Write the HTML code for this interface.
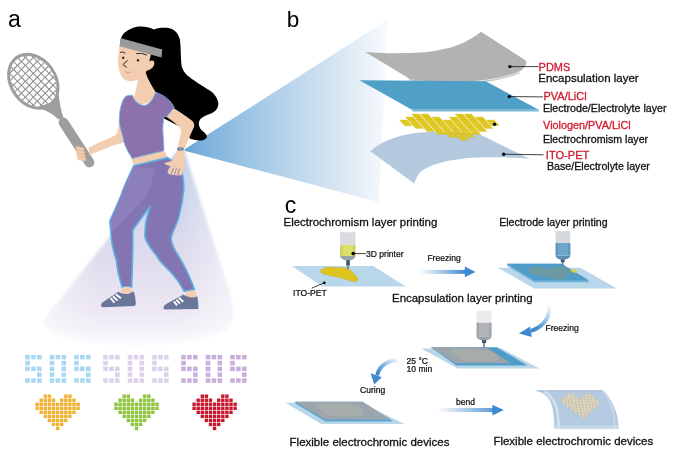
<!DOCTYPE html>
<html><head><meta charset="utf-8">
<style>
html,body{margin:0;padding:0;background:#fff;width:678px;height:457px;overflow:hidden}
svg{display:block;filter:blur(0.3px)}
text{font-family:"Liberation Sans",sans-serif}
</style></head>
<body>
<svg width="678" height="457" viewBox="0 0 678 457">
<defs>
<linearGradient id="beam" x1="185" y1="0" x2="390" y2="0" gradientUnits="userSpaceOnUse">
<stop offset="0" stop-color="#66a3d8"/>
<stop offset="0.05" stop-color="#76addb"/>
<stop offset="0.34" stop-color="#a0c8e6"/>
<stop offset="0.46" stop-color="#b3d1ea"/>
<stop offset="0.73" stop-color="#d5e5f2"/>
<stop offset="0.95" stop-color="#f3f7fc"/>
<stop offset="1" stop-color="#fbfdfe"/>
</linearGradient>
<linearGradient id="cone" x1="0" y1="150" x2="0" y2="352" gradientUnits="userSpaceOnUse">
<stop offset="0" stop-color="#bfd0eb"/>
<stop offset="0.5" stop-color="#dedbed"/>
<stop offset="0.78" stop-color="#ebe6f3"/>
<stop offset="0.88" stop-color="#f3f0f8"/>
<stop offset="1" stop-color="#ffffff"/>
</linearGradient>
<linearGradient id="coneW" x1="40" y1="0" x2="236" y2="0" gradientUnits="userSpaceOnUse">
<stop offset="0" stop-color="#fff" stop-opacity="0.5"/>
<stop offset="0.3" stop-color="#fff" stop-opacity="0"/>
<stop offset="0.72" stop-color="#fff" stop-opacity="0"/>
<stop offset="1" stop-color="#fff" stop-opacity="0.55"/>
</linearGradient>
<linearGradient id="arrH" x1="0" y1="0" x2="1" y2="0">
<stop offset="0" stop-color="#3d8ace" stop-opacity="0"/>
<stop offset="1" stop-color="#3d8ace"/>
</linearGradient>
<linearGradient id="syrG" x1="0" y1="0" x2="1" y2="0">
<stop offset="0" stop-color="#c9c9c9"/>
<stop offset="0.45" stop-color="#f2f2f2"/>
<stop offset="1" stop-color="#bdbdbd"/>
</linearGradient>
<linearGradient id="syrY" x1="0" y1="0" x2="1" y2="0">
<stop offset="0" stop-color="#c9c248"/>
<stop offset="0.45" stop-color="#efe98a"/>
<stop offset="1" stop-color="#bdb53c"/>
</linearGradient>
<linearGradient id="syrB" x1="0" y1="0" x2="1" y2="0">
<stop offset="0" stop-color="#3f78a4"/>
<stop offset="0.45" stop-color="#7fb0d4"/>
<stop offset="1" stop-color="#3a6f99"/>
</linearGradient>
<linearGradient id="syrK" x1="0" y1="0" x2="1" y2="0">
<stop offset="0" stop-color="#8f969d"/>
<stop offset="0.45" stop-color="#c8cdd2"/>
<stop offset="1" stop-color="#868d94"/>
</linearGradient>
<filter id="blur2" x="-20%" y="-20%" width="140%" height="140%"><feGaussianBlur stdDeviation="1.6"/></filter>
<clipPath id="rh"><ellipse cx="33.3" cy="81.3" rx="29" ry="22.3" transform="rotate(55 33.3 81.3)"/></clipPath>
</defs>

<!-- ===== Panel a ===== -->
<text x="8.1" y="26.5" font-size="23" fill="#000">a</text>

<!-- downward cone -->
<path d="M176,152 L184.5,151 L229,292 C232,305 234,318 229,327 C205,346 120,350 70,339 C55,334 43,327 45,319 Z" fill="url(#cone)" filter="url(#blur2)"/>
<path d="M176,152 L184.5,151 L229,292 C232,305 234,318 229,327 C205,346 120,350 70,339 C55,334 43,327 45,319 Z" fill="url(#coneW)" filter="url(#blur2)"/>

<!-- beam to panel b -->
<polygon points="184.6,149.3 388,19.6 378.8,202.2 184.6,150.7" fill="url(#beam)"/>

<!-- racquet -->
<g fill="none" stroke="#9e9e9e">
<g clip-path="url(#rh)" stroke-width="1.15" stroke="#959595">
<line x1="32.7" y1="25.3" x2="89.3" y2="81.9"/>
<line x1="28.8" y1="29.3" x2="85.3" y2="85.8"/>
<line x1="24.8" y1="33.2" x2="81.4" y2="89.8"/>
<line x1="20.9" y1="37.2" x2="77.4" y2="93.7"/>
<line x1="16.9" y1="41.1" x2="73.5" y2="97.7"/>
<line x1="12.9" y1="45.1" x2="69.5" y2="101.7"/>
<line x1="9.0" y1="49.1" x2="65.5" y2="105.6"/>
<line x1="5.0" y1="53.0" x2="61.6" y2="109.6"/>
<line x1="1.1" y1="57.0" x2="57.6" y2="113.5"/>
<line x1="-2.9" y1="60.9" x2="53.7" y2="117.5"/>
<line x1="-6.9" y1="64.9" x2="49.7" y2="121.5"/>
<line x1="-10.8" y1="68.9" x2="45.7" y2="125.4"/>
<line x1="-14.8" y1="72.8" x2="41.8" y2="129.4"/>
<line x1="-18.7" y1="76.8" x2="37.8" y2="133.3"/>
<line x1="-22.7" y1="80.7" x2="33.9" y2="137.3"/>
<line x1="89.3" y1="80.7" x2="32.7" y2="137.3"/>
<line x1="85.3" y1="76.8" x2="28.8" y2="133.3"/>
<line x1="81.4" y1="72.8" x2="24.8" y2="129.4"/>
<line x1="77.4" y1="68.9" x2="20.9" y2="125.4"/>
<line x1="73.5" y1="64.9" x2="16.9" y2="121.5"/>
<line x1="69.5" y1="60.9" x2="12.9" y2="117.5"/>
<line x1="65.5" y1="57.0" x2="9.0" y2="113.5"/>
<line x1="61.6" y1="53.0" x2="5.0" y2="109.6"/>
<line x1="57.6" y1="49.1" x2="1.1" y2="105.6"/>
<line x1="53.7" y1="45.1" x2="-2.9" y2="101.7"/>
<line x1="49.7" y1="41.1" x2="-6.9" y2="97.7"/>
<line x1="45.7" y1="37.2" x2="-10.8" y2="93.7"/>
<line x1="41.8" y1="33.2" x2="-14.8" y2="89.8"/>
<line x1="37.8" y1="29.3" x2="-18.7" y2="85.8"/>
<line x1="33.9" y1="25.3" x2="-22.7" y2="81.9"/>
</g>
<ellipse cx="33.3" cy="81.3" rx="29" ry="22.3" transform="rotate(55 33.3 81.3)" stroke-width="3"/>
</g>
<path d="M36,107.5 C44,109 52,113 58.5,119.5 L63.8,118.5 C61,111 59.5,103 58.6,94 L50,103 Z" fill="#9e9e9e"/>
<line x1="63.6" y1="122.6" x2="89.4" y2="162.4" stroke="#9e9e9e" stroke-width="10" stroke-linecap="round"/>

<!-- hair -->
<path d="M120.5,40 C122,33 128,29 136,27 C142,26 149,27 154,29.5 C157,28 162,27.5 168.5,28 C174,29 178,32 180,40 C181,48 180.5,57 181.5,65.5 C183,71 185,73 188,76 C193,80 201,85 209,90 C214,93 217,97 218.3,103 C218.5,108 216,111 212,113 C207,115 203,116.5 200.5,119 C198,122 198.5,126 201,129.5 C204,132 207,134.5 207,137 C205.5,140.5 200,141.5 194,139.8 C192.5,139.5 191.5,139.2 190.5,139 L184,130 L180.5,127 L164,118.6 C160,112 157,104 153,96 L142,74 L120.5,46 Z" fill="#000"/>

<!-- neck -->
<path d="M139.2,74 L134.5,96 L130,98 C134,106 150,108 157,93 L155.6,92 C152,86 148,80 145.5,72 Z" fill="#f3cdb0"/>
<!-- face -->
<path d="M119.5,44 L151,54.5 L149.2,61.6 C151.5,59.6 154.8,60.2 154.3,63.6 C153.8,67.6 150.6,69.8 147,70.6 C145,73.5 143,75.8 140,78 C135,81.5 129.5,82 125,80 C120,76.5 118,68 118,60 Z" fill="#f3cdb0"/>
<!-- headband -->
<path d="M120.3,39.5 C120.6,38.6 121.3,38.2 122,38.4 L162.2,49.4 L161.6,57.6 L119.6,46.3 Z" fill="#9a9a9a"/>
<!-- face features -->
<g fill="none" stroke="#2a2a2a" stroke-width="1" stroke-linecap="round">
<path d="M120.5,52.2 Q122.8,51.2 125,53"/>
<path d="M136.5,53.6 Q141.5,52.2 146.6,55"/>
<path d="M127.4,60.6 L122.9,64.6 L126.4,67.2"/>
</g>
<ellipse cx="123.2" cy="57.8" rx="1.1" ry="1.4" fill="#222"/>
<ellipse cx="138" cy="60.3" rx="1.1" ry="1.4" fill="#222"/>
<path d="M125,71.9 Q128,73.9 131,71.9" fill="none" stroke="#e98b8b" stroke-width="0.9" stroke-linecap="round"/>

<!-- left arm (racquet arm) -->
<path d="M119.8,121 C118.8,126 117.6,131 116.1,134.7 C111,137.5 106,139.5 101.9,141.3 L88.5,147.5 L89.5,155 C95,153 98.5,151.2 101.9,150 C106,148.5 110,147 112.8,145.6 C117,144.5 121,143.5 125,142 L123,122 Z" fill="#f3cdb0"/>
<!-- left hand fingers -->
<g fill="#f3cdb0" stroke="#e0ad8c" stroke-width="0.4">
<rect x="75.5" y="147" width="9" height="3.2" rx="1.6" transform="rotate(12 80 148.6)"/>
<rect x="76" y="150.4" width="9" height="3.2" rx="1.6" transform="rotate(12 80.5 152)"/>
<rect x="76.6" y="153.8" width="9" height="3.2" rx="1.6" transform="rotate(12 81 155.4)"/>
<rect x="77.6" y="157.2" width="8.5" height="3.2" rx="1.6" transform="rotate(12 82 158.8)"/>
</g>

<!-- midriff -->
<path d="M131,157 L163.6,149.5 L168.2,157.4 L133.8,166.2 Z" fill="#f3cdb0"/>

<!-- right arm -->
<path d="M169,105.5 C177,110 185,115 192.4,121 C194.6,123.5 194.4,126 193.9,127 C191,134 187.5,141 184.6,148.6 L177.6,148.6 C179.2,141 180.8,134 181.4,129.8 C177,124.5 171,119.5 166.2,116.8 Z" fill="#f3cdb0"/>

<!-- shirt -->
<path d="M125.8,96.2 C128,95.5 130,95.3 132.3,95.2 C134,101 138,104.5 144.4,105.5 C149,104.5 153,100 155.6,92.4 C161,94 166,97 169.5,100.8 C171.5,103 173,105 174.2,107.3 L166.7,116.6 L163.9,116.6 C163,124 162.5,130 163,133.3 C163.3,138 163.6,144 163.9,149.5 L163,151 C152,153.5 142,156 132.3,158.4 C128,152 124,145 123,137 C121,130 119.5,125 119.3,122.2 C119.5,114 120,109 121.2,105.5 C122,102 123.5,98.5 125.8,96.2 Z" fill="#8b72ac" stroke="#6cb4e2" stroke-width="0.9"/>

<!-- pants -->
<path d="M133.8,165.8 L167.7,157.7 C172,160 178,165 182,172 C184,180 184,190 183,196 C182,205 180,212 178,220 C175,228 171.5,234 171.1,238.8 C172,246 175,251 178.8,256.3 C184,265 189,275 192,283 L194.5,289.5 L184.2,291.3 C180,283 176,278 172.2,273.8 C166,267 160,262 156.9,256.3 C151,249 146,242 144.9,236.6 C145,228 146,220 147,216.9 L150.3,206 L132.8,230 L132.8,249.7 L131.7,286.9 L121.9,286.9 C119,277 117,268 116.4,260.6 C113,250 111,240 110.9,232.2 C110.5,228 110,224 109.8,221.3 C113,214 117,205 120.8,196 C124,186 129,176 133.8,165.8 Z" fill="#8375b2" stroke="#5cb0e2" stroke-width="1.6"/>
<path d="M133.3,167 C129,176 124,186 121,196 C117,205 113.5,214 110.6,221.3 C111,225 111.3,229 111.7,232.5 L146.5,196 L151,185 L155,168 Z" fill="#9183c0" opacity="0.7"/>

<!-- hand on hip -->
<path d="M177,150 L184.5,150 C185.5,156 185,163 183.6,170 L182.2,174.6 C180.5,175.8 176,175.6 172,174.8 C169.5,174.2 167.6,173.6 167.6,172.4 C167.8,170 169.5,167.8 170.5,166.2 C168.5,165.4 166.5,164.8 165,164.2 C164.3,163.6 164.8,162.8 166,162.6 C168.5,162.2 171.5,161.2 173.5,159.5 C175,157 176.2,153.5 177,150 Z" fill="#f3cdb0"/>
<g stroke="#8375b2" stroke-width="0.8" fill="none"><path d="M173.6,168 L170.6,174.8"/><path d="M176.6,168.4 L174,175.4"/><path d="M179.6,168.6 L177.6,175.6"/></g>
<rect x="177" y="147.4" width="6.8" height="3" rx="1" fill="#7589a6"/>
<circle cx="180.4" cy="148.9" r="1.4" fill="#9aaac0" stroke="#5b6f8c" stroke-width="0.4"/>

<!-- ankles -->
<ellipse cx="126.6" cy="290.4" rx="5.4" ry="3.6" fill="#f3cdb0"/>
<ellipse cx="191" cy="294.2" rx="5.4" ry="3.8" fill="#f3cdb0"/>
<!-- shoes -->
<path d="M101.1,304.8 C101.5,303 103,302 105,300.8 L118.4,291.8 C121,293.5 125,294.3 128,293.9 C130,293.5 132,292.3 133.3,291.2 C134.6,293 135.6,298 135.8,303.6 C135.8,305.2 135,305.8 133.5,306 L103,307.3 C101.5,307.3 100.8,306 101.1,304.8 Z" fill="#6a7799"/>
<path d="M163.7,307 C164,305.5 165.5,304.5 167.5,303.3 L183.5,294.6 C186,296.5 190,297.6 193,297.4 C194.8,297.2 196.2,296.6 197.2,296.2 C198,299 198.4,304 198.4,309 L165,309.6 C163.8,309.4 163.4,308.2 163.7,307 Z" fill="#6a7799"/>
<g stroke="#fff" stroke-width="1.9">
<line x1="110.4" y1="298" x2="114.4" y2="302.7"/><line x1="112.9" y1="296.2" x2="117.5" y2="300.5"/><line x1="115.7" y1="294.3" x2="120.9" y2="298.3"/>
<line x1="173.9" y1="301.4" x2="177" y2="305.4"/><line x1="176.4" y1="299.6" x2="179.8" y2="303.6"/><line x1="178.9" y1="297.7" x2="183.2" y2="301.7"/>
</g>

<rect x="25.20" y="354.90" width="4.6" height="4.5" fill="#a9d8f1"/>
<rect x="31.10" y="354.90" width="4.6" height="4.5" fill="#a9d8f1"/>
<rect x="37.00" y="354.90" width="4.6" height="4.5" fill="#a9d8f1"/>
<rect x="25.20" y="360.75" width="4.6" height="4.5" fill="#a9d8f1"/>
<rect x="25.20" y="366.60" width="4.6" height="4.5" fill="#a9d8f1"/>
<rect x="31.10" y="366.60" width="4.6" height="4.5" fill="#a9d8f1"/>
<rect x="37.00" y="366.60" width="4.6" height="4.5" fill="#a9d8f1"/>
<rect x="37.00" y="372.45" width="4.6" height="4.5" fill="#a9d8f1"/>
<rect x="25.20" y="378.30" width="4.6" height="4.5" fill="#a9d8f1"/>
<rect x="31.10" y="378.30" width="4.6" height="4.5" fill="#a9d8f1"/>
<rect x="37.00" y="378.30" width="4.6" height="4.5" fill="#a9d8f1"/>
<rect x="49.70" y="354.90" width="4.6" height="4.5" fill="#a9d8f1"/>
<rect x="55.60" y="354.90" width="4.6" height="4.5" fill="#a9d8f1"/>
<rect x="61.50" y="354.90" width="4.6" height="4.5" fill="#a9d8f1"/>
<rect x="49.70" y="360.75" width="4.6" height="4.5" fill="#a9d8f1"/>
<rect x="61.50" y="360.75" width="4.6" height="4.5" fill="#a9d8f1"/>
<rect x="49.70" y="366.60" width="4.6" height="4.5" fill="#a9d8f1"/>
<rect x="61.50" y="366.60" width="4.6" height="4.5" fill="#a9d8f1"/>
<rect x="49.70" y="372.45" width="4.6" height="4.5" fill="#a9d8f1"/>
<rect x="61.50" y="372.45" width="4.6" height="4.5" fill="#a9d8f1"/>
<rect x="49.70" y="378.30" width="4.6" height="4.5" fill="#a9d8f1"/>
<rect x="55.60" y="378.30" width="4.6" height="4.5" fill="#a9d8f1"/>
<rect x="61.50" y="378.30" width="4.6" height="4.5" fill="#a9d8f1"/>
<rect x="74.20" y="354.90" width="4.6" height="4.5" fill="#a9d8f1"/>
<rect x="80.10" y="354.90" width="4.6" height="4.5" fill="#a9d8f1"/>
<rect x="86.00" y="354.90" width="4.6" height="4.5" fill="#a9d8f1"/>
<rect x="74.20" y="360.75" width="4.6" height="4.5" fill="#a9d8f1"/>
<rect x="74.20" y="366.60" width="4.6" height="4.5" fill="#a9d8f1"/>
<rect x="80.10" y="366.60" width="4.6" height="4.5" fill="#a9d8f1"/>
<rect x="86.00" y="366.60" width="4.6" height="4.5" fill="#a9d8f1"/>
<rect x="86.00" y="372.45" width="4.6" height="4.5" fill="#a9d8f1"/>
<rect x="74.20" y="378.30" width="4.6" height="4.5" fill="#a9d8f1"/>
<rect x="80.10" y="378.30" width="4.6" height="4.5" fill="#a9d8f1"/>
<rect x="86.00" y="378.30" width="4.6" height="4.5" fill="#a9d8f1"/>
<rect x="103.20" y="354.90" width="4.6" height="4.5" fill="#ddd1ea"/>
<rect x="109.10" y="354.90" width="4.6" height="4.5" fill="#ddd1ea"/>
<rect x="115.00" y="354.90" width="4.6" height="4.5" fill="#ddd1ea"/>
<rect x="103.20" y="360.75" width="4.6" height="4.5" fill="#ddd1ea"/>
<rect x="103.20" y="366.60" width="4.6" height="4.5" fill="#ddd1ea"/>
<rect x="109.10" y="366.60" width="4.6" height="4.5" fill="#ddd1ea"/>
<rect x="115.00" y="366.60" width="4.6" height="4.5" fill="#ddd1ea"/>
<rect x="115.00" y="372.45" width="4.6" height="4.5" fill="#ddd1ea"/>
<rect x="103.20" y="378.30" width="4.6" height="4.5" fill="#ddd1ea"/>
<rect x="109.10" y="378.30" width="4.6" height="4.5" fill="#ddd1ea"/>
<rect x="115.00" y="378.30" width="4.6" height="4.5" fill="#ddd1ea"/>
<rect x="127.70" y="354.90" width="4.6" height="4.5" fill="#ddd1ea"/>
<rect x="133.60" y="354.90" width="4.6" height="4.5" fill="#ddd1ea"/>
<rect x="139.50" y="354.90" width="4.6" height="4.5" fill="#ddd1ea"/>
<rect x="127.70" y="360.75" width="4.6" height="4.5" fill="#ddd1ea"/>
<rect x="139.50" y="360.75" width="4.6" height="4.5" fill="#ddd1ea"/>
<rect x="127.70" y="366.60" width="4.6" height="4.5" fill="#ddd1ea"/>
<rect x="139.50" y="366.60" width="4.6" height="4.5" fill="#ddd1ea"/>
<rect x="127.70" y="372.45" width="4.6" height="4.5" fill="#ddd1ea"/>
<rect x="139.50" y="372.45" width="4.6" height="4.5" fill="#ddd1ea"/>
<rect x="127.70" y="378.30" width="4.6" height="4.5" fill="#ddd1ea"/>
<rect x="133.60" y="378.30" width="4.6" height="4.5" fill="#ddd1ea"/>
<rect x="139.50" y="378.30" width="4.6" height="4.5" fill="#ddd1ea"/>
<rect x="152.20" y="354.90" width="4.6" height="4.5" fill="#ddd1ea"/>
<rect x="158.10" y="354.90" width="4.6" height="4.5" fill="#ddd1ea"/>
<rect x="164.00" y="354.90" width="4.6" height="4.5" fill="#ddd1ea"/>
<rect x="152.20" y="360.75" width="4.6" height="4.5" fill="#ddd1ea"/>
<rect x="152.20" y="366.60" width="4.6" height="4.5" fill="#ddd1ea"/>
<rect x="158.10" y="366.60" width="4.6" height="4.5" fill="#ddd1ea"/>
<rect x="164.00" y="366.60" width="4.6" height="4.5" fill="#ddd1ea"/>
<rect x="164.00" y="372.45" width="4.6" height="4.5" fill="#ddd1ea"/>
<rect x="152.20" y="378.30" width="4.6" height="4.5" fill="#ddd1ea"/>
<rect x="158.10" y="378.30" width="4.6" height="4.5" fill="#ddd1ea"/>
<rect x="164.00" y="378.30" width="4.6" height="4.5" fill="#ddd1ea"/>
<rect x="181.20" y="354.90" width="4.6" height="4.5" fill="#c8b0dc"/>
<rect x="187.10" y="354.90" width="4.6" height="4.5" fill="#c8b0dc"/>
<rect x="193.00" y="354.90" width="4.6" height="4.5" fill="#c8b0dc"/>
<rect x="181.20" y="360.75" width="4.6" height="4.5" fill="#c8b0dc"/>
<rect x="181.20" y="366.60" width="4.6" height="4.5" fill="#c8b0dc"/>
<rect x="187.10" y="366.60" width="4.6" height="4.5" fill="#c8b0dc"/>
<rect x="193.00" y="366.60" width="4.6" height="4.5" fill="#c8b0dc"/>
<rect x="193.00" y="372.45" width="4.6" height="4.5" fill="#c8b0dc"/>
<rect x="181.20" y="378.30" width="4.6" height="4.5" fill="#c8b0dc"/>
<rect x="187.10" y="378.30" width="4.6" height="4.5" fill="#c8b0dc"/>
<rect x="193.00" y="378.30" width="4.6" height="4.5" fill="#c8b0dc"/>
<rect x="205.70" y="354.90" width="4.6" height="4.5" fill="#c8b0dc"/>
<rect x="211.60" y="354.90" width="4.6" height="4.5" fill="#c8b0dc"/>
<rect x="217.50" y="354.90" width="4.6" height="4.5" fill="#c8b0dc"/>
<rect x="205.70" y="360.75" width="4.6" height="4.5" fill="#c8b0dc"/>
<rect x="217.50" y="360.75" width="4.6" height="4.5" fill="#c8b0dc"/>
<rect x="205.70" y="366.60" width="4.6" height="4.5" fill="#c8b0dc"/>
<rect x="217.50" y="366.60" width="4.6" height="4.5" fill="#c8b0dc"/>
<rect x="205.70" y="372.45" width="4.6" height="4.5" fill="#c8b0dc"/>
<rect x="217.50" y="372.45" width="4.6" height="4.5" fill="#c8b0dc"/>
<rect x="205.70" y="378.30" width="4.6" height="4.5" fill="#c8b0dc"/>
<rect x="211.60" y="378.30" width="4.6" height="4.5" fill="#c8b0dc"/>
<rect x="217.50" y="378.30" width="4.6" height="4.5" fill="#c8b0dc"/>
<rect x="230.20" y="354.90" width="4.6" height="4.5" fill="#c8b0dc"/>
<rect x="236.10" y="354.90" width="4.6" height="4.5" fill="#c8b0dc"/>
<rect x="242.00" y="354.90" width="4.6" height="4.5" fill="#c8b0dc"/>
<rect x="230.20" y="360.75" width="4.6" height="4.5" fill="#c8b0dc"/>
<rect x="230.20" y="366.60" width="4.6" height="4.5" fill="#c8b0dc"/>
<rect x="236.10" y="366.60" width="4.6" height="4.5" fill="#c8b0dc"/>
<rect x="242.00" y="366.60" width="4.6" height="4.5" fill="#c8b0dc"/>
<rect x="242.00" y="372.45" width="4.6" height="4.5" fill="#c8b0dc"/>
<rect x="230.20" y="378.30" width="4.6" height="4.5" fill="#c8b0dc"/>
<rect x="236.10" y="378.30" width="4.6" height="4.5" fill="#c8b0dc"/>
<rect x="242.00" y="378.30" width="4.6" height="4.5" fill="#c8b0dc"/>
<rect x="43.60" y="394.50" width="3.4" height="3.4" fill="#f0b030"/>
<rect x="47.70" y="394.50" width="3.4" height="3.4" fill="#f0b030"/>
<rect x="64.10" y="394.50" width="3.4" height="3.4" fill="#f0b030"/>
<rect x="68.20" y="394.50" width="3.4" height="3.4" fill="#f0b030"/>
<rect x="39.50" y="398.53" width="3.4" height="3.4" fill="#f0b030"/>
<rect x="43.60" y="398.53" width="3.4" height="3.4" fill="#f0b030"/>
<rect x="47.70" y="398.53" width="3.4" height="3.4" fill="#f0b030"/>
<rect x="51.80" y="398.53" width="3.4" height="3.4" fill="#f0b030"/>
<rect x="60.00" y="398.53" width="3.4" height="3.4" fill="#f0b030"/>
<rect x="64.10" y="398.53" width="3.4" height="3.4" fill="#f0b030"/>
<rect x="68.20" y="398.53" width="3.4" height="3.4" fill="#f0b030"/>
<rect x="72.30" y="398.53" width="3.4" height="3.4" fill="#f0b030"/>
<rect x="35.40" y="402.56" width="3.4" height="3.4" fill="#f0b030"/>
<rect x="39.50" y="402.56" width="3.4" height="3.4" fill="#f0b030"/>
<rect x="43.60" y="402.56" width="3.4" height="3.4" fill="#f0b030"/>
<rect x="47.70" y="402.56" width="3.4" height="3.4" fill="#f0b030"/>
<rect x="51.80" y="402.56" width="3.4" height="3.4" fill="#f0b030"/>
<rect x="55.90" y="402.56" width="3.4" height="3.4" fill="#f0b030"/>
<rect x="60.00" y="402.56" width="3.4" height="3.4" fill="#f0b030"/>
<rect x="64.10" y="402.56" width="3.4" height="3.4" fill="#f0b030"/>
<rect x="68.20" y="402.56" width="3.4" height="3.4" fill="#f0b030"/>
<rect x="72.30" y="402.56" width="3.4" height="3.4" fill="#f0b030"/>
<rect x="76.40" y="402.56" width="3.4" height="3.4" fill="#f0b030"/>
<rect x="35.40" y="406.59" width="3.4" height="3.4" fill="#f0b030"/>
<rect x="39.50" y="406.59" width="3.4" height="3.4" fill="#f0b030"/>
<rect x="43.60" y="406.59" width="3.4" height="3.4" fill="#f0b030"/>
<rect x="47.70" y="406.59" width="3.4" height="3.4" fill="#f0b030"/>
<rect x="51.80" y="406.59" width="3.4" height="3.4" fill="#f0b030"/>
<rect x="55.90" y="406.59" width="3.4" height="3.4" fill="#f0b030"/>
<rect x="60.00" y="406.59" width="3.4" height="3.4" fill="#f0b030"/>
<rect x="64.10" y="406.59" width="3.4" height="3.4" fill="#f0b030"/>
<rect x="68.20" y="406.59" width="3.4" height="3.4" fill="#f0b030"/>
<rect x="72.30" y="406.59" width="3.4" height="3.4" fill="#f0b030"/>
<rect x="76.40" y="406.59" width="3.4" height="3.4" fill="#f0b030"/>
<rect x="39.50" y="410.62" width="3.4" height="3.4" fill="#f0b030"/>
<rect x="43.60" y="410.62" width="3.4" height="3.4" fill="#f0b030"/>
<rect x="47.70" y="410.62" width="3.4" height="3.4" fill="#f0b030"/>
<rect x="51.80" y="410.62" width="3.4" height="3.4" fill="#f0b030"/>
<rect x="55.90" y="410.62" width="3.4" height="3.4" fill="#f0b030"/>
<rect x="60.00" y="410.62" width="3.4" height="3.4" fill="#f0b030"/>
<rect x="64.10" y="410.62" width="3.4" height="3.4" fill="#f0b030"/>
<rect x="68.20" y="410.62" width="3.4" height="3.4" fill="#f0b030"/>
<rect x="72.30" y="410.62" width="3.4" height="3.4" fill="#f0b030"/>
<rect x="43.60" y="414.65" width="3.4" height="3.4" fill="#f0b030"/>
<rect x="47.70" y="414.65" width="3.4" height="3.4" fill="#f0b030"/>
<rect x="51.80" y="414.65" width="3.4" height="3.4" fill="#f0b030"/>
<rect x="55.90" y="414.65" width="3.4" height="3.4" fill="#f0b030"/>
<rect x="60.00" y="414.65" width="3.4" height="3.4" fill="#f0b030"/>
<rect x="64.10" y="414.65" width="3.4" height="3.4" fill="#f0b030"/>
<rect x="68.20" y="414.65" width="3.4" height="3.4" fill="#f0b030"/>
<rect x="47.70" y="418.68" width="3.4" height="3.4" fill="#f0b030"/>
<rect x="51.80" y="418.68" width="3.4" height="3.4" fill="#f0b030"/>
<rect x="55.90" y="418.68" width="3.4" height="3.4" fill="#f0b030"/>
<rect x="60.00" y="418.68" width="3.4" height="3.4" fill="#f0b030"/>
<rect x="64.10" y="418.68" width="3.4" height="3.4" fill="#f0b030"/>
<rect x="51.80" y="422.71" width="3.4" height="3.4" fill="#f0b030"/>
<rect x="55.90" y="422.71" width="3.4" height="3.4" fill="#f0b030"/>
<rect x="60.00" y="422.71" width="3.4" height="3.4" fill="#f0b030"/>
<rect x="55.90" y="426.74" width="3.4" height="3.4" fill="#f0b030"/>
<rect x="122.50" y="394.50" width="3.4" height="3.4" fill="#8cc43c"/>
<rect x="126.60" y="394.50" width="3.4" height="3.4" fill="#8cc43c"/>
<rect x="143.00" y="394.50" width="3.4" height="3.4" fill="#8cc43c"/>
<rect x="147.10" y="394.50" width="3.4" height="3.4" fill="#8cc43c"/>
<rect x="118.40" y="398.53" width="3.4" height="3.4" fill="#8cc43c"/>
<rect x="122.50" y="398.53" width="3.4" height="3.4" fill="#8cc43c"/>
<rect x="126.60" y="398.53" width="3.4" height="3.4" fill="#8cc43c"/>
<rect x="130.70" y="398.53" width="3.4" height="3.4" fill="#8cc43c"/>
<rect x="138.90" y="398.53" width="3.4" height="3.4" fill="#8cc43c"/>
<rect x="143.00" y="398.53" width="3.4" height="3.4" fill="#8cc43c"/>
<rect x="147.10" y="398.53" width="3.4" height="3.4" fill="#8cc43c"/>
<rect x="151.20" y="398.53" width="3.4" height="3.4" fill="#8cc43c"/>
<rect x="114.30" y="402.56" width="3.4" height="3.4" fill="#8cc43c"/>
<rect x="118.40" y="402.56" width="3.4" height="3.4" fill="#8cc43c"/>
<rect x="122.50" y="402.56" width="3.4" height="3.4" fill="#8cc43c"/>
<rect x="126.60" y="402.56" width="3.4" height="3.4" fill="#8cc43c"/>
<rect x="130.70" y="402.56" width="3.4" height="3.4" fill="#8cc43c"/>
<rect x="134.80" y="402.56" width="3.4" height="3.4" fill="#8cc43c"/>
<rect x="138.90" y="402.56" width="3.4" height="3.4" fill="#8cc43c"/>
<rect x="143.00" y="402.56" width="3.4" height="3.4" fill="#8cc43c"/>
<rect x="147.10" y="402.56" width="3.4" height="3.4" fill="#8cc43c"/>
<rect x="151.20" y="402.56" width="3.4" height="3.4" fill="#8cc43c"/>
<rect x="155.30" y="402.56" width="3.4" height="3.4" fill="#8cc43c"/>
<rect x="114.30" y="406.59" width="3.4" height="3.4" fill="#8cc43c"/>
<rect x="118.40" y="406.59" width="3.4" height="3.4" fill="#8cc43c"/>
<rect x="122.50" y="406.59" width="3.4" height="3.4" fill="#8cc43c"/>
<rect x="126.60" y="406.59" width="3.4" height="3.4" fill="#8cc43c"/>
<rect x="130.70" y="406.59" width="3.4" height="3.4" fill="#8cc43c"/>
<rect x="134.80" y="406.59" width="3.4" height="3.4" fill="#8cc43c"/>
<rect x="138.90" y="406.59" width="3.4" height="3.4" fill="#8cc43c"/>
<rect x="143.00" y="406.59" width="3.4" height="3.4" fill="#8cc43c"/>
<rect x="147.10" y="406.59" width="3.4" height="3.4" fill="#8cc43c"/>
<rect x="151.20" y="406.59" width="3.4" height="3.4" fill="#8cc43c"/>
<rect x="155.30" y="406.59" width="3.4" height="3.4" fill="#8cc43c"/>
<rect x="118.40" y="410.62" width="3.4" height="3.4" fill="#8cc43c"/>
<rect x="122.50" y="410.62" width="3.4" height="3.4" fill="#8cc43c"/>
<rect x="126.60" y="410.62" width="3.4" height="3.4" fill="#8cc43c"/>
<rect x="130.70" y="410.62" width="3.4" height="3.4" fill="#8cc43c"/>
<rect x="134.80" y="410.62" width="3.4" height="3.4" fill="#8cc43c"/>
<rect x="138.90" y="410.62" width="3.4" height="3.4" fill="#8cc43c"/>
<rect x="143.00" y="410.62" width="3.4" height="3.4" fill="#8cc43c"/>
<rect x="147.10" y="410.62" width="3.4" height="3.4" fill="#8cc43c"/>
<rect x="151.20" y="410.62" width="3.4" height="3.4" fill="#8cc43c"/>
<rect x="122.50" y="414.65" width="3.4" height="3.4" fill="#8cc43c"/>
<rect x="126.60" y="414.65" width="3.4" height="3.4" fill="#8cc43c"/>
<rect x="130.70" y="414.65" width="3.4" height="3.4" fill="#8cc43c"/>
<rect x="134.80" y="414.65" width="3.4" height="3.4" fill="#8cc43c"/>
<rect x="138.90" y="414.65" width="3.4" height="3.4" fill="#8cc43c"/>
<rect x="143.00" y="414.65" width="3.4" height="3.4" fill="#8cc43c"/>
<rect x="147.10" y="414.65" width="3.4" height="3.4" fill="#8cc43c"/>
<rect x="126.60" y="418.68" width="3.4" height="3.4" fill="#8cc43c"/>
<rect x="130.70" y="418.68" width="3.4" height="3.4" fill="#8cc43c"/>
<rect x="134.80" y="418.68" width="3.4" height="3.4" fill="#8cc43c"/>
<rect x="138.90" y="418.68" width="3.4" height="3.4" fill="#8cc43c"/>
<rect x="143.00" y="418.68" width="3.4" height="3.4" fill="#8cc43c"/>
<rect x="130.70" y="422.71" width="3.4" height="3.4" fill="#8cc43c"/>
<rect x="134.80" y="422.71" width="3.4" height="3.4" fill="#8cc43c"/>
<rect x="138.90" y="422.71" width="3.4" height="3.4" fill="#8cc43c"/>
<rect x="134.80" y="426.74" width="3.4" height="3.4" fill="#8cc43c"/>
<rect x="200.60" y="394.50" width="3.4" height="3.4" fill="#c8162c"/>
<rect x="204.70" y="394.50" width="3.4" height="3.4" fill="#c8162c"/>
<rect x="221.10" y="394.50" width="3.4" height="3.4" fill="#c8162c"/>
<rect x="225.20" y="394.50" width="3.4" height="3.4" fill="#c8162c"/>
<rect x="196.50" y="398.53" width="3.4" height="3.4" fill="#c8162c"/>
<rect x="200.60" y="398.53" width="3.4" height="3.4" fill="#c8162c"/>
<rect x="204.70" y="398.53" width="3.4" height="3.4" fill="#c8162c"/>
<rect x="208.80" y="398.53" width="3.4" height="3.4" fill="#c8162c"/>
<rect x="217.00" y="398.53" width="3.4" height="3.4" fill="#c8162c"/>
<rect x="221.10" y="398.53" width="3.4" height="3.4" fill="#c8162c"/>
<rect x="225.20" y="398.53" width="3.4" height="3.4" fill="#c8162c"/>
<rect x="229.30" y="398.53" width="3.4" height="3.4" fill="#c8162c"/>
<rect x="192.40" y="402.56" width="3.4" height="3.4" fill="#c8162c"/>
<rect x="196.50" y="402.56" width="3.4" height="3.4" fill="#c8162c"/>
<rect x="200.60" y="402.56" width="3.4" height="3.4" fill="#c8162c"/>
<rect x="204.70" y="402.56" width="3.4" height="3.4" fill="#c8162c"/>
<rect x="208.80" y="402.56" width="3.4" height="3.4" fill="#c8162c"/>
<rect x="212.90" y="402.56" width="3.4" height="3.4" fill="#c8162c"/>
<rect x="217.00" y="402.56" width="3.4" height="3.4" fill="#c8162c"/>
<rect x="221.10" y="402.56" width="3.4" height="3.4" fill="#c8162c"/>
<rect x="225.20" y="402.56" width="3.4" height="3.4" fill="#c8162c"/>
<rect x="229.30" y="402.56" width="3.4" height="3.4" fill="#c8162c"/>
<rect x="233.40" y="402.56" width="3.4" height="3.4" fill="#c8162c"/>
<rect x="192.40" y="406.59" width="3.4" height="3.4" fill="#c8162c"/>
<rect x="196.50" y="406.59" width="3.4" height="3.4" fill="#c8162c"/>
<rect x="200.60" y="406.59" width="3.4" height="3.4" fill="#c8162c"/>
<rect x="204.70" y="406.59" width="3.4" height="3.4" fill="#c8162c"/>
<rect x="208.80" y="406.59" width="3.4" height="3.4" fill="#c8162c"/>
<rect x="212.90" y="406.59" width="3.4" height="3.4" fill="#c8162c"/>
<rect x="217.00" y="406.59" width="3.4" height="3.4" fill="#c8162c"/>
<rect x="221.10" y="406.59" width="3.4" height="3.4" fill="#c8162c"/>
<rect x="225.20" y="406.59" width="3.4" height="3.4" fill="#c8162c"/>
<rect x="229.30" y="406.59" width="3.4" height="3.4" fill="#c8162c"/>
<rect x="233.40" y="406.59" width="3.4" height="3.4" fill="#c8162c"/>
<rect x="196.50" y="410.62" width="3.4" height="3.4" fill="#c8162c"/>
<rect x="200.60" y="410.62" width="3.4" height="3.4" fill="#c8162c"/>
<rect x="204.70" y="410.62" width="3.4" height="3.4" fill="#c8162c"/>
<rect x="208.80" y="410.62" width="3.4" height="3.4" fill="#c8162c"/>
<rect x="212.90" y="410.62" width="3.4" height="3.4" fill="#c8162c"/>
<rect x="217.00" y="410.62" width="3.4" height="3.4" fill="#c8162c"/>
<rect x="221.10" y="410.62" width="3.4" height="3.4" fill="#c8162c"/>
<rect x="225.20" y="410.62" width="3.4" height="3.4" fill="#c8162c"/>
<rect x="229.30" y="410.62" width="3.4" height="3.4" fill="#c8162c"/>
<rect x="200.60" y="414.65" width="3.4" height="3.4" fill="#c8162c"/>
<rect x="204.70" y="414.65" width="3.4" height="3.4" fill="#c8162c"/>
<rect x="208.80" y="414.65" width="3.4" height="3.4" fill="#c8162c"/>
<rect x="212.90" y="414.65" width="3.4" height="3.4" fill="#c8162c"/>
<rect x="217.00" y="414.65" width="3.4" height="3.4" fill="#c8162c"/>
<rect x="221.10" y="414.65" width="3.4" height="3.4" fill="#c8162c"/>
<rect x="225.20" y="414.65" width="3.4" height="3.4" fill="#c8162c"/>
<rect x="204.70" y="418.68" width="3.4" height="3.4" fill="#c8162c"/>
<rect x="208.80" y="418.68" width="3.4" height="3.4" fill="#c8162c"/>
<rect x="212.90" y="418.68" width="3.4" height="3.4" fill="#c8162c"/>
<rect x="217.00" y="418.68" width="3.4" height="3.4" fill="#c8162c"/>
<rect x="221.10" y="418.68" width="3.4" height="3.4" fill="#c8162c"/>
<rect x="208.80" y="422.71" width="3.4" height="3.4" fill="#c8162c"/>
<rect x="212.90" y="422.71" width="3.4" height="3.4" fill="#c8162c"/>
<rect x="217.00" y="422.71" width="3.4" height="3.4" fill="#c8162c"/>
<rect x="212.90" y="426.74" width="3.4" height="3.4" fill="#c8162c"/>

<!-- ===== Panel b ===== -->
<text x="286.7" y="26.6" font-size="22.5" fill="#000">b</text>

<!-- PDMS -->
<path d="M408,78.5 C425,81.5 445,82.8 463,82.5 C485,81.5 505,78 519.3,72 L519.3,73.6 C505,79.5 485,83 463,83.8 C445,84 425,83 410,80.5 Z" fill="#c9c9c9"/>
<path d="M365.3,51.9 C385,53.5 405,53.6 420,52.6 C440,51 455,47 465,42 C472,38.5 477,35 481,31.8 L523.5,59 C527.5,61.2 526.8,64.2 524.6,67 C523,69 521.4,70.6 519.3,71.6 C505,77.5 485,81 463,82 C445,82.5 425,81.5 410,79 Z" fill="#b2b2b2"/>
<!-- PVA/LiCl blue -->
<polygon points="359.4,80.3 485.7,81.2 538.8,109.8 412,109.8" fill="#509fc7"/>
<polygon points="412,109.8 538.8,109.8 538.8,111.6 412.6,111.6" fill="#7fb8d9"/>
<!-- ITO-PET -->
<path d="M370.3,151.3 C380,142 395,136 415,133 C435,130.5 460,132 478,133.6 L529.6,158.7 C510,157 480,156.5 463,158.7 C440,161 425,167 419,173.4 C416.5,177 415,180.5 414.6,183.7 Z" fill="#b4c8de"/>
<!-- viologen heart -->
<rect x="0" y="0" width="0" height="0"/><g fill="#e2c91b" stroke="#c8b116" stroke-width="0.25"><polygon points="411.77,114.10 419.33,114.10 421.88,117.00 414.32,117.00"/>
<polygon points="420.47,114.10 428.03,114.10 430.58,117.00 423.02,117.00"/>
<polygon points="455.27,114.10 462.83,114.10 465.38,117.00 457.82,117.00"/>
<polygon points="463.97,114.10 471.53,114.10 474.08,117.00 466.52,117.00"/>
<polygon points="405.62,117.00 413.18,117.00 415.73,119.90 408.17,119.90"/>
<polygon points="414.32,117.00 421.88,117.00 424.43,119.90 416.87,119.90"/>
<polygon points="423.02,117.00 430.58,117.00 433.13,119.90 425.57,119.90"/>
<polygon points="431.72,117.00 439.28,117.00 441.83,119.90 434.27,119.90"/>
<polygon points="449.12,117.00 456.68,117.00 459.23,119.90 451.67,119.90"/>
<polygon points="457.82,117.00 465.38,117.00 467.93,119.90 460.37,119.90"/>
<polygon points="466.52,117.00 474.08,117.00 476.63,119.90 469.07,119.90"/>
<polygon points="475.22,117.00 482.78,117.00 485.33,119.90 477.77,119.90"/>
<polygon points="399.47,119.90 407.03,119.90 409.58,122.80 402.02,122.80"/>
<polygon points="408.17,119.90 415.73,119.90 418.28,122.80 410.72,122.80"/>
<polygon points="416.87,119.90 424.43,119.90 426.98,122.80 419.42,122.80"/>
<polygon points="425.57,119.90 433.13,119.90 435.68,122.80 428.12,122.80"/>
<polygon points="434.27,119.90 441.83,119.90 444.38,122.80 436.82,122.80"/>
<polygon points="442.97,119.90 450.53,119.90 453.08,122.80 445.52,122.80"/>
<polygon points="451.67,119.90 459.23,119.90 461.78,122.80 454.22,122.80"/>
<polygon points="460.37,119.90 467.93,119.90 470.48,122.80 462.92,122.80"/>
<polygon points="469.07,119.90 476.63,119.90 479.18,122.80 471.62,122.80"/>
<polygon points="477.77,119.90 485.33,119.90 487.88,122.80 480.32,122.80"/>
<polygon points="486.47,119.90 494.03,119.90 496.58,122.80 489.02,122.80"/>
<polygon points="402.02,122.80 409.58,122.80 412.13,125.70 404.57,125.70"/>
<polygon points="410.72,122.80 418.28,122.80 420.83,125.70 413.27,125.70"/>
<polygon points="419.42,122.80 426.98,122.80 429.53,125.70 421.97,125.70"/>
<polygon points="428.12,122.80 435.68,122.80 438.23,125.70 430.67,125.70"/>
<polygon points="436.82,122.80 444.38,122.80 446.93,125.70 439.37,125.70"/>
<polygon points="445.52,122.80 453.08,122.80 455.63,125.70 448.07,125.70"/>
<polygon points="454.22,122.80 461.78,122.80 464.33,125.70 456.77,125.70"/>
<polygon points="462.92,122.80 470.48,122.80 473.03,125.70 465.47,125.70"/>
<polygon points="471.62,122.80 479.18,122.80 481.73,125.70 474.17,125.70"/>
<polygon points="480.32,122.80 487.88,122.80 490.43,125.70 482.87,125.70"/>
<polygon points="489.02,122.80 496.58,122.80 499.13,125.70 491.57,125.70"/>
<polygon points="413.27,125.70 420.83,125.70 423.38,128.60 415.82,128.60"/>
<polygon points="421.97,125.70 429.53,125.70 432.08,128.60 424.52,128.60"/>
<polygon points="430.67,125.70 438.23,125.70 440.78,128.60 433.22,128.60"/>
<polygon points="439.37,125.70 446.93,125.70 449.48,128.60 441.92,128.60"/>
<polygon points="448.07,125.70 455.63,125.70 458.18,128.60 450.62,128.60"/>
<polygon points="456.77,125.70 464.33,125.70 466.88,128.60 459.32,128.60"/>
<polygon points="465.47,125.70 473.03,125.70 475.58,128.60 468.02,128.60"/>
<polygon points="474.17,125.70 481.73,125.70 484.28,128.60 476.72,128.60"/>
<polygon points="482.87,125.70 490.43,125.70 492.98,128.60 485.42,128.60"/>
<polygon points="424.52,128.60 432.08,128.60 434.63,131.50 427.07,131.50"/>
<polygon points="433.22,128.60 440.78,128.60 443.33,131.50 435.77,131.50"/>
<polygon points="441.92,128.60 449.48,128.60 452.03,131.50 444.47,131.50"/>
<polygon points="450.62,128.60 458.18,128.60 460.73,131.50 453.17,131.50"/>
<polygon points="459.32,128.60 466.88,128.60 469.43,131.50 461.87,131.50"/>
<polygon points="468.02,128.60 475.58,128.60 478.13,131.50 470.57,131.50"/>
<polygon points="476.72,128.60 484.28,128.60 486.83,131.50 479.27,131.50"/>
<polygon points="435.77,131.50 443.33,131.50 445.88,134.40 438.32,134.40"/>
<polygon points="444.47,131.50 452.03,131.50 454.58,134.40 447.02,134.40"/>
<polygon points="453.17,131.50 460.73,131.50 463.28,134.40 455.72,134.40"/>
<polygon points="461.87,131.50 469.43,131.50 471.98,134.40 464.42,134.40"/>
<polygon points="470.57,131.50 478.13,131.50 480.68,134.40 473.12,134.40"/>
<polygon points="447.02,134.40 454.58,134.40 457.13,137.30 449.57,137.30"/>
<polygon points="455.72,134.40 463.28,134.40 465.83,137.30 458.27,137.30"/>
<polygon points="464.42,134.40 471.98,134.40 474.53,137.30 466.97,137.30"/>
<polygon points="458.27,137.30 465.83,137.30 468.38,140.20 460.82,140.20"/></g>
<!-- pointers -->
<g stroke="#111" stroke-width="0.8">
<line x1="509.9" y1="66.6" x2="538.5" y2="66.6"/>
<line x1="509.3" y1="96.6" x2="543" y2="96.9"/>
<line x1="503.7" y1="154.2" x2="543.6" y2="154.8"/>
</g>
<g fill="#000">
<circle cx="509.9" cy="66.6" r="1.7"/>
<circle cx="509.3" cy="96.6" r="1.7"/>
<circle cx="494.6" cy="124.2" r="1.7"/>
<circle cx="503.7" cy="154.2" r="1.7"/>
</g>
<g font-size="10.65" stroke-width="0.3">
<text x="538.6" y="71" fill="#d01a2b" stroke="#d01a2b" font-size="10.95">PDMS</text>
<text x="538.3" y="82" fill="#111" stroke="#111" font-size="11.5">Encapsulation layer</text>
<text x="543.5" y="100.4" fill="#d01a2b" stroke="#d01a2b" font-size="11.0">PVA/LiCl</text>
<text x="542.9" y="111.7" fill="#111" stroke="#111">Electrode/Electrolyte layer</text>
<text x="543.1" y="129" fill="#d01a2b" stroke="#d01a2b" font-size="10.85">Viologen/PVA/LiCl</text>
<text x="542.9" y="142.5" fill="#111" stroke="#111">Electrochromism layer</text>
<text x="545.8" y="159" fill="#d01a2b" stroke="#d01a2b" font-size="11.1">ITO-PET</text>
<text x="547" y="170.1" fill="#111" stroke="#111">Base/Electrolyte layer</text>
</g>


<!-- ===== Panel c ===== -->
<text x="284.8" y="213" font-size="23" fill="#000">c</text>
<g font-size="11.45" fill="#111" stroke="#111" stroke-width="0.3">
<text x="283.5" y="225.6">Electrochromism layer printing</text>
<text x="499.2" y="225.8" font-size="10.6">Electrode layer printing</text>
<text x="392" y="302.2">Encapsulation layer printing</text>
<text x="289.6" y="445.8" font-size="11.5">Flexible electrochromic devices</text>
<text x="493.4" y="445" font-size="11.5">Flexible electrochromic devices</text>
</g>
<g font-size="8.55" fill="#111" stroke="#111" stroke-width="0.24">
<text x="366" y="256.8">3D printer</text>
<text x="427.4" y="261.3">Freezing</text>
<text x="293.1" y="296.2">ITO-PET</text>
<text x="545.5" y="331.1">Freezing</text>
<text x="406.5" y="363.7">25 °C</text>
<text x="406.5" y="371.9">10 min</text>
<text x="360" y="393.1">Curing</text>
<text x="456" y="405">bend</text>
</g>

<!-- step 1 -->
<polygon points="291.7,265.9 373.2,265.9 405.8,286.6 322.4,286.6" fill="#b9d7ea"/>
<path d="M320.6,270.8 C321.5,268.2 326,267.4 332,267.3 L347.5,268 C350.5,270 353.5,273 356.2,276 C358.4,278.4 358.2,281 355.2,281.8 C351,281.2 347,279.8 343,278.4 C339,277.2 335,276.6 331,275.8 C326,274.9 322.2,273.8 321,272.6 Z" fill="#e0c41e" stroke="#b59c12" stroke-width="0.5" stroke-dasharray="1.1 0.7"/>
<!-- syringe 1 -->
<g><rect x="340.1" y="232.3" width="15.40" height="12.60" fill="#d9dbdf"/><rect x="340.1" y="244.9" width="15.40" height="11.10" fill="#dcdf6c"/><rect x="340.1" y="244.9" width="2.46" height="11.10" fill="#c3c650" opacity="0.5"/><rect x="353.04" y="244.9" width="2.46" height="11.10" fill="#c3c650" opacity="0.5"/><path d="M340.1,256 L355.5,256 C355.5,258.80 351.40,260.30 350.20,260.30 L345.90,260.30 C344.70,260.30 340.1,258.80 340.1,256 Z" fill="#95a7a4"/><rect x="346.2" y="260.10" width="3.70" height="5.50" fill="#3f5d72"/><rect x="347.3" y="265.50" width="1.50" height="3.90" fill="#5f7888"/></g>
<line x1="353.3" y1="253.6" x2="366" y2="253.6" stroke="#111" stroke-width="0.8"/>
<circle cx="353.2" cy="253.6" r="1.8" fill="#000"/>
<line x1="324.3" y1="282.8" x2="311.8" y2="288.2" stroke="#111" stroke-width="0.8"/>
<circle cx="324.3" cy="282.8" r="1.4" fill="#000"/>

<!-- arrow 1 -->
<rect x="419.5" y="269.9" width="46" height="4" fill="url(#arrH)"/>
<polygon points="464.8,266.6 475.4,271.9 464.8,277.2" fill="#3d8ace"/>

<!-- step 2 -->
<polygon points="497.7,267.8 580.3,267.8 616.9,288.6 534.3,288.6" fill="#b9d7ea"/>
<polygon points="507.1,263.8 561.4,263.8 588.6,280.3 588.6,282.3 534.3,282.3 507.1,265.8" fill="#6fb1d6"/>
<polygon points="507.1,263.8 561.4,263.8 588.6,280.3 534.3,280.3" fill="#4f9cc8"/>
<path d="M528.6,270 C529,267 534,266.6 540,267.2 C544,267.6 547,268.4 549,269.2 C552,267.2 558,266.6 563,267 C568,267.6 571,269.5 570.5,271.5 C569.5,274.5 566,277.5 562.2,279.8 C555,279.2 545,277.5 538,275.6 C532,274 528.6,272 528.6,270 Z" fill="#6b9aa3"/>
<path d="M570.5,270.2 C572,269.2 574.5,269.4 576.5,270.6 C578,271.6 577.5,272.8 575.5,272.8 C573.5,272.8 571.5,272 570.5,270.2 Z" fill="#d9d03a"/>

<g><rect x="555.6" y="231.1" width="14.70" height="11.90" fill="#d5d9dc"/><rect x="555.6" y="243" width="14.70" height="12.40" fill="#6fa6cc"/><rect x="555.6" y="243" width="2.35" height="12.40" fill="#4f86ae" opacity="0.5"/><rect x="567.95" y="243" width="2.35" height="12.40" fill="#4f86ae" opacity="0.5"/><path d="M555.6,255.4 L570.3,255.4 C570.3,258.00 566.10,259.50 564.90,259.50 L560.50,259.50 C559.30,259.50 555.6,258.00 555.6,255.4 Z" fill="#5b8fb3"/><rect x="560.8" y="259.30" width="3.80" height="3.00" fill="#3c5a6e"/><rect x="562" y="262.20" width="1.40" height="3.60" fill="#5f7888"/></g>
<!-- curved arrow freezing -->
<defs>
<linearGradient id="arrC1" x1="549" y1="305" x2="525" y2="334" gradientUnits="userSpaceOnUse">
<stop offset="0" stop-color="#3d8ace" stop-opacity="0"/>
<stop offset="0.7" stop-color="#3d8ace"/>
<stop offset="1" stop-color="#3d8ace"/>
</linearGradient>
<linearGradient id="arrC2" x1="400" y1="360" x2="374" y2="384" gradientUnits="userSpaceOnUse">
<stop offset="0" stop-color="#3d8ace" stop-opacity="0"/>
<stop offset="0.7" stop-color="#3d8ace"/>
<stop offset="1" stop-color="#3d8ace"/>
</linearGradient>
<linearGradient id="arrH2" x1="437" y1="0" x2="504" y2="0" gradientUnits="userSpaceOnUse">
<stop offset="0" stop-color="#3d8ace" stop-opacity="0"/>
<stop offset="1" stop-color="#3d8ace"/>
</linearGradient>
</defs>
<path d="M549.5,305 C550,316 545,326 531,331" fill="none" stroke="url(#arrC1)" stroke-width="3.9"/>
<polygon points="518.9,333.5 530.2,326.6 531.8,337" fill="#3d8ace"/>

<!-- step 3 -->
<polygon points="421.2,348.4 501.5,348.4 539.2,368.4 457.8,368.4" fill="#b9d7ea"/>
<polygon points="430.7,347.2 496.8,347.2 527.4,365.6 456.6,365.6" fill="#4f9cc8"/>
<polygon points="430.7,347.2 486.1,347.2 510.9,363.2 455.5,363.2" fill="#9aa4ad"/>
<path d="M452,350 C460,348.5 478,348.5 488,350.5 C496,352.5 500,357 497,360 C490,362 470,362 462,360 C455,357.5 449,352 452,350 Z" fill="#a9afa8" opacity="0.75"/>

<g><rect x="476.6" y="310.8" width="14.90" height="12.00" fill="#e8eaec"/><rect x="476.6" y="322.8" width="14.90" height="14.00" fill="#b0b4b8"/><rect x="476.6" y="322.8" width="2.38" height="14.00" fill="#969a9f" opacity="0.5"/><rect x="489.12" y="322.8" width="2.38" height="14.00" fill="#969a9f" opacity="0.5"/><path d="M476.6,336.8 L491.5,336.8 C491.5,338.70 487.70,340.20 486.50,340.20 L481.70,340.20 C480.50,340.20 476.6,338.70 476.6,336.8 Z" fill="#9aa0a6"/><rect x="482" y="340.00" width="4.20" height="3.10" fill="#3d6070"/><rect x="483.3" y="343.00" width="1.50" height="4.60" fill="#5f7888"/></g>
<!-- curing arrow -->
<path d="M398.8,360.3 C388,360 379,366 377.2,375.5" fill="none" stroke="url(#arrC2)" stroke-width="3.9"/>
<polygon points="374.2,384.6 370.6,373.2 381.8,377.2" fill="#3d8ace"/>

<!-- step 4 -->
<polygon points="285.4,402.7 360.5,402.7 404.6,424.1 321.2,424.1" fill="#b9d7ea"/>
<polygon points="295.3,401.7 362.5,401.7 393.2,421.6 325.6,421.6 295.3,403.6" fill="#5aa6d0"/>
<polygon points="295.3,401.7 362.5,401.7 391.2,419.5 325.1,419.5" fill="#9aa5ae"/>
<path d="M318,404.5 C326,403 344,403 354,405 C362,407 366,412 363,415 C356,417 336,417 328,415 C321,412.5 315,406.5 318,404.5 Z" fill="#a9afa8" opacity="0.7"/>

<!-- bend arrow -->
<rect x="437" y="408" width="56" height="4" fill="url(#arrH2)"/>
<polygon points="492.3,404.8 503.8,410 492.3,415.4" fill="#3d8ace"/>

<!-- flexible device -->
<path d="M535.9,390.6 L603,390.6 C608,394 613,403 616.3,412.4 C617.8,418 618.5,423 618.5,428.7 L554.3,428.7 C554.3,420 553.5,411 551.5,404.5 C549,397.5 544,393 535.9,390.6 Z" fill="#b3cae1"/>
<path d="M555.5,425.6 L617.5,425.6 L618.4,428.7 L554.3,428.7 Z" fill="#c8d8ea"/>
<path d="M544.2,391.2 C550.5,395 554.6,401.5 556.8,408.5 C558.2,414.5 558.6,421 558.6,428.6" fill="none" stroke="#d3e0ee" stroke-width="2.6"/>
<path d="M602.5,391.2 C607.5,395.5 611,403.5 613.2,411.5 C614.4,417.5 614.9,423 615,428.6" fill="none" stroke="#cfdcec" stroke-width="1.4"/>
<path d="M536.5,390.8 L602.8,390.8" stroke="#9db5d0" stroke-width="0.8"/>
<g fill="#c9c0a6" stroke="#c9c0a6" stroke-width="0.3"><polygon points="566.76,393.20 570.14,393.30 570.74,396.05 567.36,395.95"/><polygon points="570.14,393.30 573.52,393.40 574.12,396.15 570.74,396.05"/><polygon points="583.66,393.70 587.04,393.80 587.64,396.55 584.26,396.45"/><polygon points="587.04,393.80 590.42,393.90 591.02,396.65 587.64,396.55"/><polygon points="563.98,395.85 567.36,395.95 567.96,398.70 564.58,398.60"/><polygon points="567.36,395.95 570.74,396.05 571.34,398.80 567.96,398.70"/><polygon points="570.74,396.05 574.12,396.15 574.72,398.90 571.34,398.80"/><polygon points="574.12,396.15 577.50,396.25 578.10,399.00 574.72,398.90"/><polygon points="580.88,396.35 584.26,396.45 584.86,399.20 581.48,399.10"/><polygon points="584.26,396.45 587.64,396.55 588.24,399.30 584.86,399.20"/><polygon points="587.64,396.55 591.02,396.65 591.62,399.40 588.24,399.30"/><polygon points="591.02,396.65 594.40,396.75 595.00,399.50 591.62,399.40"/><polygon points="561.20,398.50 564.58,398.60 565.18,401.35 561.80,401.25"/><polygon points="564.58,398.60 567.96,398.70 568.56,401.45 565.18,401.35"/><polygon points="567.96,398.70 571.34,398.80 571.94,401.55 568.56,401.45"/><polygon points="571.34,398.80 574.72,398.90 575.32,401.65 571.94,401.55"/><polygon points="574.72,398.90 578.10,399.00 578.70,401.75 575.32,401.65"/><polygon points="578.10,399.00 581.48,399.10 582.08,401.85 578.70,401.75"/><polygon points="581.48,399.10 584.86,399.20 585.46,401.95 582.08,401.85"/><polygon points="584.86,399.20 588.24,399.30 588.84,402.05 585.46,401.95"/><polygon points="588.24,399.30 591.62,399.40 592.22,402.15 588.84,402.05"/><polygon points="591.62,399.40 595.00,399.50 595.60,402.25 592.22,402.15"/><polygon points="595.00,399.50 598.38,399.60 598.98,402.35 595.60,402.25"/><polygon points="561.80,401.25 565.18,401.35 565.78,404.10 562.40,404.00"/><polygon points="565.18,401.35 568.56,401.45 569.16,404.20 565.78,404.10"/><polygon points="568.56,401.45 571.94,401.55 572.54,404.30 569.16,404.20"/><polygon points="571.94,401.55 575.32,401.65 575.92,404.40 572.54,404.30"/><polygon points="575.32,401.65 578.70,401.75 579.30,404.50 575.92,404.40"/><polygon points="578.70,401.75 582.08,401.85 582.68,404.60 579.30,404.50"/><polygon points="582.08,401.85 585.46,401.95 586.06,404.70 582.68,404.60"/><polygon points="585.46,401.95 588.84,402.05 589.44,404.80 586.06,404.70"/><polygon points="588.84,402.05 592.22,402.15 592.82,404.90 589.44,404.80"/><polygon points="592.22,402.15 595.60,402.25 596.20,405.00 592.82,404.90"/><polygon points="595.60,402.25 598.98,402.35 599.58,405.10 596.20,405.00"/><polygon points="565.78,404.10 569.16,404.20 569.76,406.95 566.38,406.85"/><polygon points="569.16,404.20 572.54,404.30 573.14,407.05 569.76,406.95"/><polygon points="572.54,404.30 575.92,404.40 576.52,407.15 573.14,407.05"/><polygon points="575.92,404.40 579.30,404.50 579.90,407.25 576.52,407.15"/><polygon points="579.30,404.50 582.68,404.60 583.28,407.35 579.90,407.25"/><polygon points="582.68,404.60 586.06,404.70 586.66,407.45 583.28,407.35"/><polygon points="586.06,404.70 589.44,404.80 590.04,407.55 586.66,407.45"/><polygon points="589.44,404.80 592.82,404.90 593.42,407.65 590.04,407.55"/><polygon points="592.82,404.90 596.20,405.00 596.80,407.75 593.42,407.65"/><polygon points="569.76,406.95 573.14,407.05 573.74,409.80 570.36,409.70"/><polygon points="573.14,407.05 576.52,407.15 577.12,409.90 573.74,409.80"/><polygon points="576.52,407.15 579.90,407.25 580.50,410.00 577.12,409.90"/><polygon points="579.90,407.25 583.28,407.35 583.88,410.10 580.50,410.00"/><polygon points="583.28,407.35 586.66,407.45 587.26,410.20 583.88,410.10"/><polygon points="586.66,407.45 590.04,407.55 590.64,410.30 587.26,410.20"/><polygon points="590.04,407.55 593.42,407.65 594.02,410.40 590.64,410.30"/><polygon points="573.74,409.80 577.12,409.90 577.72,412.65 574.34,412.55"/><polygon points="577.12,409.90 580.50,410.00 581.10,412.75 577.72,412.65"/><polygon points="580.50,410.00 583.88,410.10 584.48,412.85 581.10,412.75"/><polygon points="583.88,410.10 587.26,410.20 587.86,412.95 584.48,412.85"/><polygon points="587.26,410.20 590.64,410.30 591.24,413.05 587.86,412.95"/><polygon points="577.72,412.65 581.10,412.75 581.70,415.50 578.32,415.40"/><polygon points="581.10,412.75 584.48,412.85 585.08,415.60 581.70,415.50"/><polygon points="584.48,412.85 587.86,412.95 588.46,415.70 585.08,415.60"/><polygon points="581.70,415.50 585.08,415.60 585.68,418.35 582.30,418.25"/></g><g fill="#ddd5bf"><circle cx="568.75" cy="394.62" r="1.4"/><circle cx="572.13" cy="394.73" r="1.4"/><circle cx="585.65" cy="395.12" r="1.4"/><circle cx="589.03" cy="395.23" r="1.4"/><circle cx="565.97" cy="397.27" r="1.4"/><circle cx="569.35" cy="397.38" r="1.4"/><circle cx="572.73" cy="397.48" r="1.4"/><circle cx="576.11" cy="397.57" r="1.4"/><circle cx="582.87" cy="397.77" r="1.4"/><circle cx="586.25" cy="397.88" r="1.4"/><circle cx="589.63" cy="397.98" r="1.4"/><circle cx="593.01" cy="398.07" r="1.4"/><circle cx="563.19" cy="399.93" r="1.4"/><circle cx="566.57" cy="400.02" r="1.4"/><circle cx="569.95" cy="400.12" r="1.4"/><circle cx="573.33" cy="400.23" r="1.4"/><circle cx="576.71" cy="400.32" r="1.4"/><circle cx="580.09" cy="400.43" r="1.4"/><circle cx="583.47" cy="400.52" r="1.4"/><circle cx="586.85" cy="400.62" r="1.4"/><circle cx="590.23" cy="400.73" r="1.4"/><circle cx="593.61" cy="400.82" r="1.4"/><circle cx="596.99" cy="400.93" r="1.4"/><circle cx="563.79" cy="402.68" r="1.4"/><circle cx="567.17" cy="402.77" r="1.4"/><circle cx="570.55" cy="402.88" r="1.4"/><circle cx="573.93" cy="402.98" r="1.4"/><circle cx="577.31" cy="403.07" r="1.4"/><circle cx="580.69" cy="403.18" r="1.4"/><circle cx="584.07" cy="403.27" r="1.4"/><circle cx="587.45" cy="403.38" r="1.4"/><circle cx="590.83" cy="403.48" r="1.4"/><circle cx="594.21" cy="403.57" r="1.4"/><circle cx="597.59" cy="403.68" r="1.4"/><circle cx="567.77" cy="405.52" r="1.4"/><circle cx="571.15" cy="405.62" r="1.4"/><circle cx="574.53" cy="405.73" r="1.4"/><circle cx="577.91" cy="405.82" r="1.4"/><circle cx="581.29" cy="405.93" r="1.4"/><circle cx="584.67" cy="406.02" r="1.4"/><circle cx="588.05" cy="406.12" r="1.4"/><circle cx="591.43" cy="406.23" r="1.4"/><circle cx="594.81" cy="406.32" r="1.4"/><circle cx="571.75" cy="408.38" r="1.4"/><circle cx="575.13" cy="408.48" r="1.4"/><circle cx="578.51" cy="408.57" r="1.4"/><circle cx="581.89" cy="408.68" r="1.4"/><circle cx="585.27" cy="408.77" r="1.4"/><circle cx="588.65" cy="408.88" r="1.4"/><circle cx="592.03" cy="408.98" r="1.4"/><circle cx="575.73" cy="411.23" r="1.4"/><circle cx="579.11" cy="411.32" r="1.4"/><circle cx="582.49" cy="411.43" r="1.4"/><circle cx="585.87" cy="411.52" r="1.4"/><circle cx="589.25" cy="411.62" r="1.4"/><circle cx="579.71" cy="414.07" r="1.4"/><circle cx="583.09" cy="414.18" r="1.4"/><circle cx="586.47" cy="414.27" r="1.4"/><circle cx="583.69" cy="416.93" r="1.4"/></g>


</svg>
</body></html>
